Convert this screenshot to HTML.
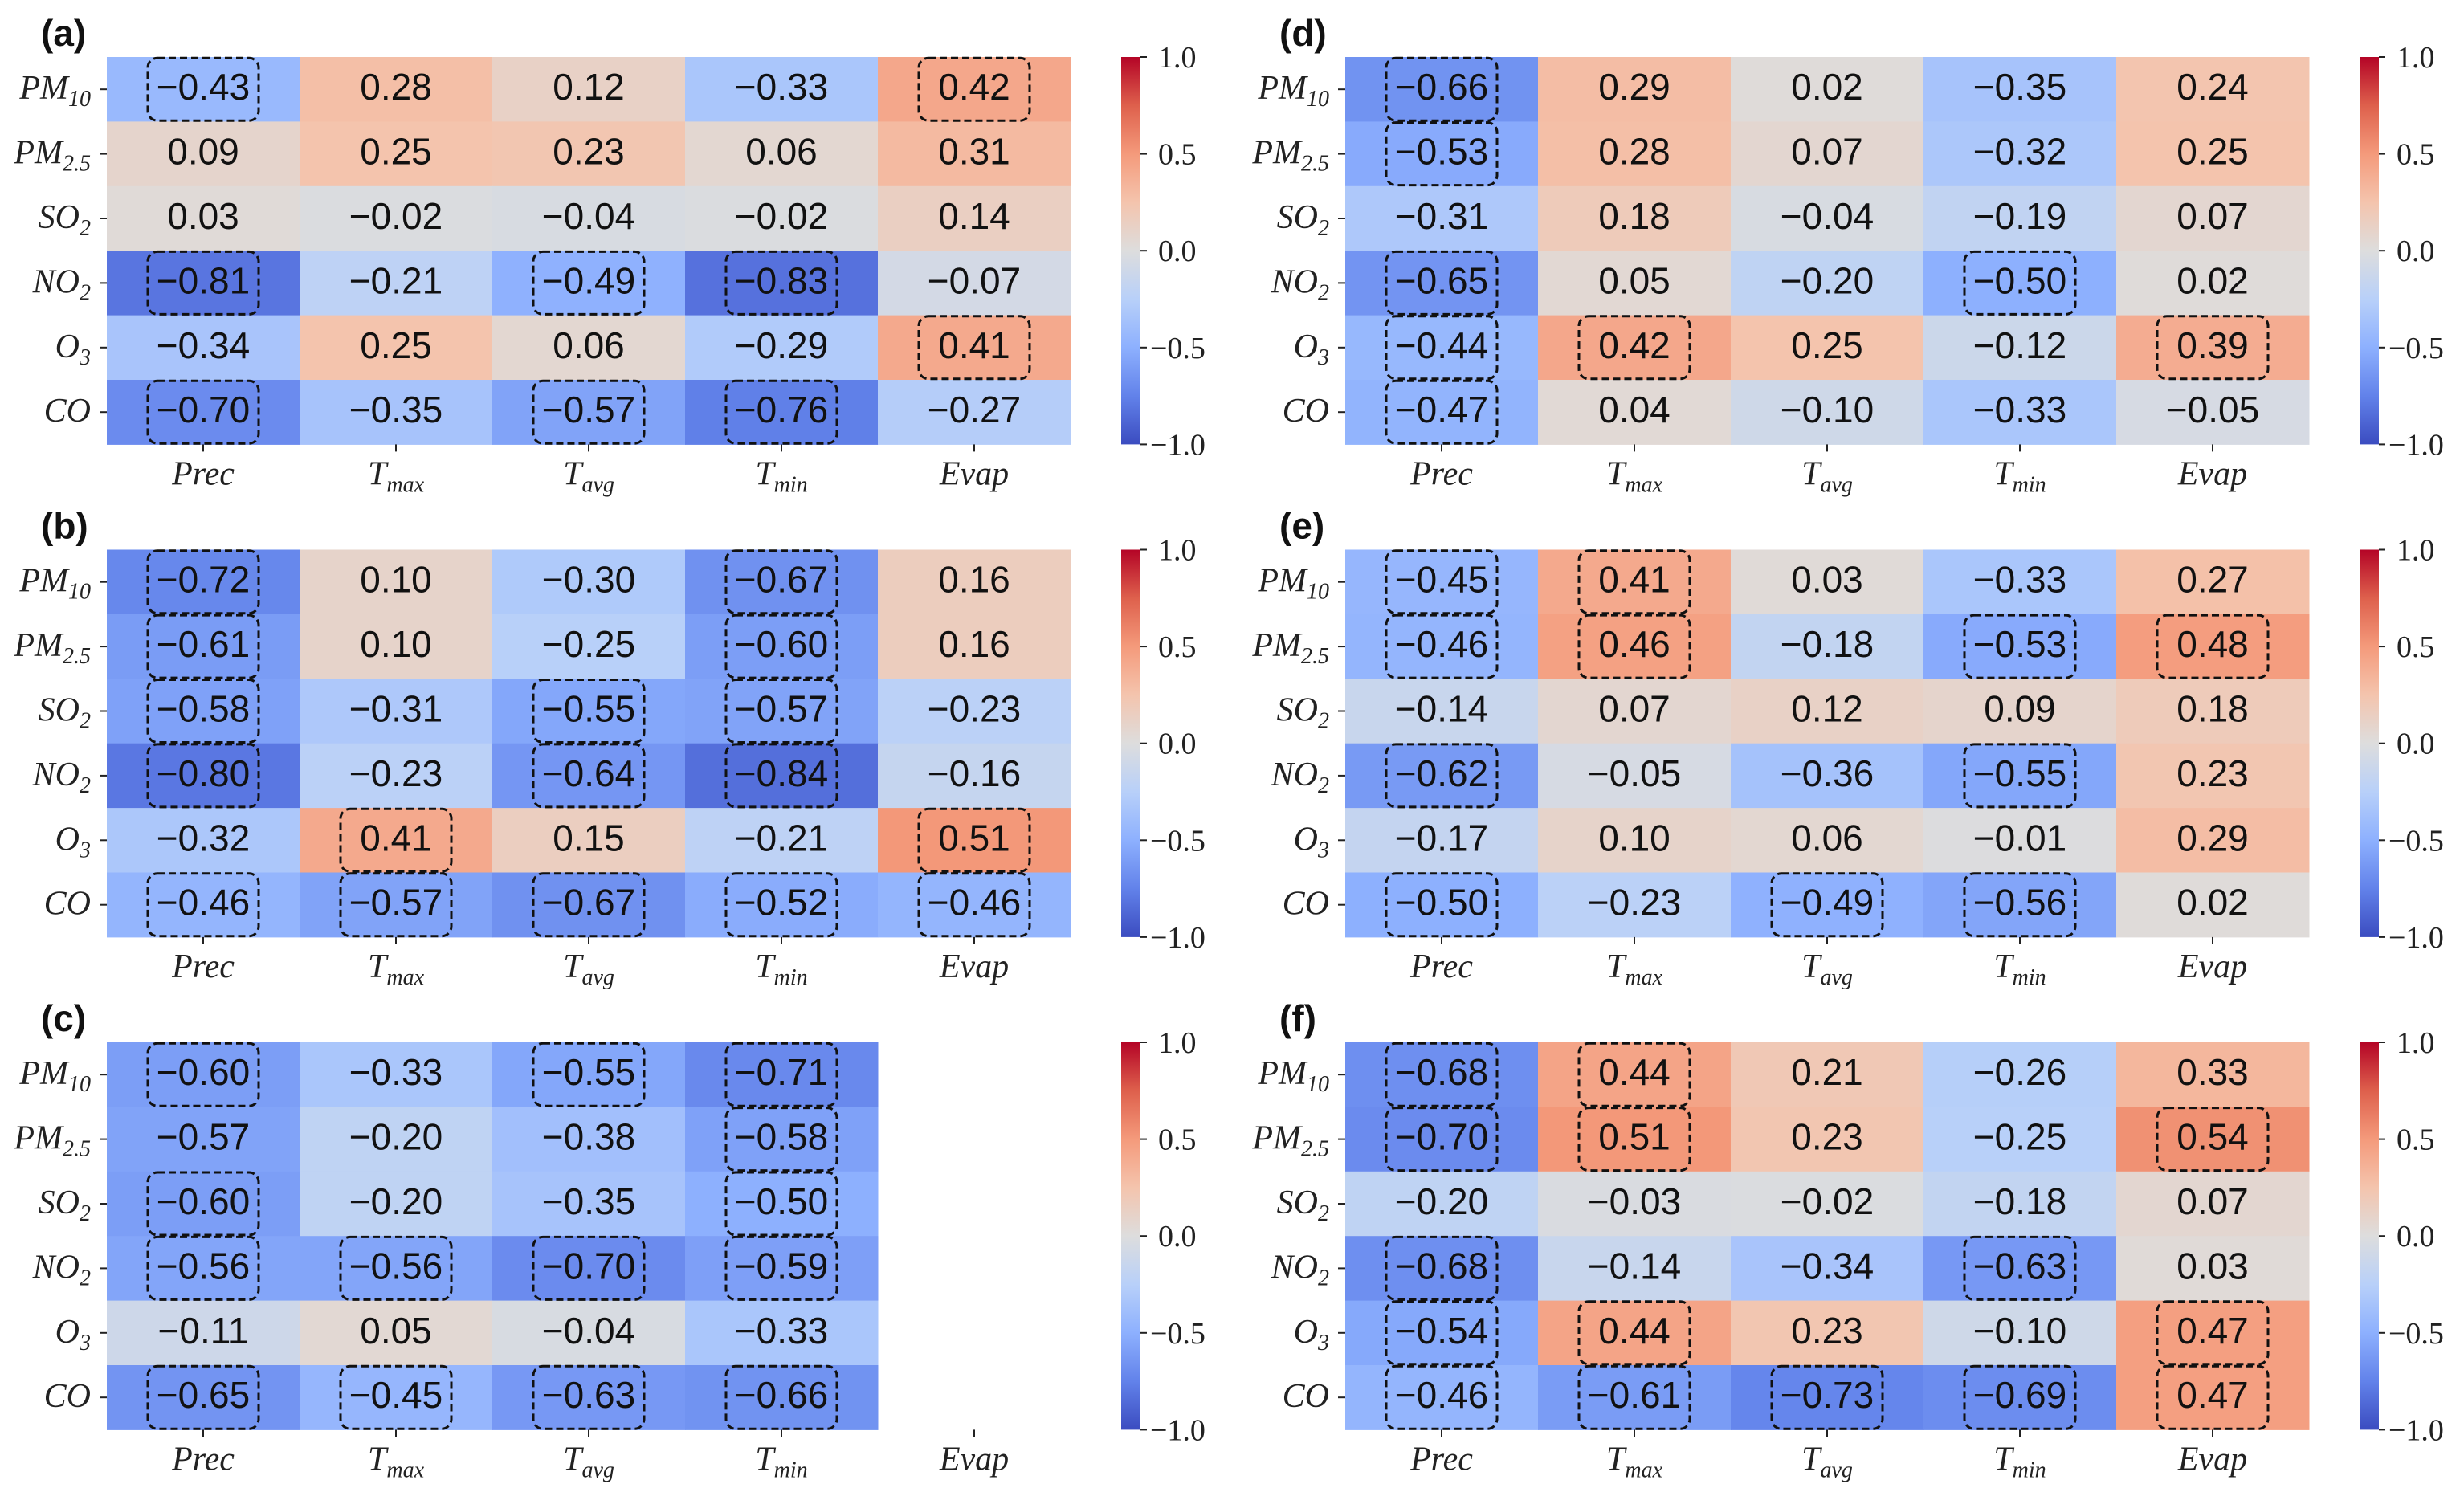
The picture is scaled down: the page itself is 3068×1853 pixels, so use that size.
<!DOCTYPE html>
<html><head><meta charset="utf-8"><style>
html,body{margin:0;padding:0;background:#fff;}
svg{display:block;}
.val{font-family:"Liberation Sans",sans-serif;font-size:46px;fill:#111;}
.lab{font-family:"Liberation Serif",serif;font-style:italic;font-size:42px;fill:#222;}
.cb{font-family:"Liberation Serif",serif;font-size:38px;fill:#222;}
.pl{font-family:"Liberation Sans",sans-serif;font-weight:bold;font-size:46px;fill:#111;}
</style></head><body>
<svg id="chart" xmlns="http://www.w3.org/2000/svg" width="3068" height="1853" viewBox="0 0 3068 1853">
<defs>
<linearGradient id="cw" x1="0" y1="1" x2="0" y2="0">
<stop offset="0" stop-color="rgb(59,76,192)"/><stop offset="0.125" stop-color="rgb(98,130,234)"/>
<stop offset="0.25" stop-color="rgb(141,176,254)"/><stop offset="0.375" stop-color="rgb(184,208,249)"/>
<stop offset="0.5" stop-color="rgb(221,221,221)"/><stop offset="0.625" stop-color="rgb(244,196,173)"/>
<stop offset="0.75" stop-color="rgb(244,154,123)"/><stop offset="0.875" stop-color="rgb(222,96,76)"/>
<stop offset="1" stop-color="rgb(180,4,38)"/>
</linearGradient>
</defs>
</svg>
<script>
const rowsLabels = [["PM","10"],["PM","2.5"],["SO","2"],["NO","2"],["O","3"],["CO",""]];
const colLabels = [["Prec",""],["T","max"],["T","avg"],["T","min"],["Evap",""]];
const cbTicks = [1.0, 0.5, 0.0, -0.5, -1.0];
const cbTickLabels = ["1.0","0.5","0.0","\u22120.5","\u22121.0"];
const panelNames = ["(a)","(b)","(c)","(d)","(e)","(f)"];
const valuesA = [[-0.43,0.28,0.12,-0.33,0.42],[0.09,0.25,0.23,0.06,0.31],[0.03,-0.02,-0.04,-0.02,0.14],[-0.81,-0.21,-0.49,-0.83,-0.07],[-0.34,0.25,0.06,-0.29,0.41],[-0.70,-0.35,-0.57,-0.76,-0.27]];
const boxedA = [[1,0,0,0,1],[0,0,0,0,0],[0,0,0,0,0],[1,0,1,1,0],[0,0,0,0,1],[1,0,1,1,0]];
const valuesB = [[-0.72,0.10,-0.30,-0.67,0.16],[-0.61,0.10,-0.25,-0.60,0.16],[-0.58,-0.31,-0.55,-0.57,-0.23],[-0.80,-0.23,-0.64,-0.84,-0.16],[-0.32,0.41,0.15,-0.21,0.51],[-0.46,-0.57,-0.67,-0.52,-0.46]];
const boxedB = [[1,0,0,1,0],[1,0,0,1,0],[1,0,1,1,0],[1,0,1,1,0],[0,1,0,0,1],[1,1,1,1,1]];
const valuesC = [[-0.60,-0.33,-0.55,-0.71],[-0.57,-0.20,-0.38,-0.58],[-0.60,-0.20,-0.35,-0.50],[-0.56,-0.56,-0.70,-0.59],[-0.11,0.05,-0.04,-0.33],[-0.65,-0.45,-0.63,-0.66]];
const boxedC = [[1,0,1,1],[0,0,0,1],[1,0,0,1],[1,1,1,1],[0,0,0,0],[1,1,1,1]];
const valuesD = [[-0.66,0.29,0.02,-0.35,0.24],[-0.53,0.28,0.07,-0.32,0.25],[-0.31,0.18,-0.04,-0.19,0.07],[-0.65,0.05,-0.20,-0.50,0.02],[-0.44,0.42,0.25,-0.12,0.39],[-0.47,0.04,-0.10,-0.33,-0.05]];
const boxedD = [[1,0,0,0,0],[1,0,0,0,0],[0,0,0,0,0],[1,0,0,1,0],[1,1,0,0,1],[1,0,0,0,0]];
const valuesE = [[-0.45,0.41,0.03,-0.33,0.27],[-0.46,0.46,-0.18,-0.53,0.48],[-0.14,0.07,0.12,0.09,0.18],[-0.62,-0.05,-0.36,-0.55,0.23],[-0.17,0.10,0.06,-0.01,0.29],[-0.50,-0.23,-0.49,-0.56,0.02]];
const boxedE = [[1,1,0,0,0],[1,1,0,1,1],[0,0,0,0,0],[1,0,0,1,0],[0,0,0,0,0],[1,0,1,1,0]];
const valuesF = [[-0.68,0.44,0.21,-0.26,0.33],[-0.70,0.51,0.23,-0.25,0.54],[-0.20,-0.03,-0.02,-0.18,0.07],[-0.68,-0.14,-0.34,-0.63,0.03],[-0.54,0.44,0.23,-0.10,0.47],[-0.46,-0.61,-0.73,-0.69,0.47]];
const boxedF = [[1,1,0,0,0],[1,1,0,0,1],[0,0,0,0,0],[1,0,0,1,0],[1,1,0,0,1],[1,1,1,1,1]];

const NS = "http://www.w3.org/2000/svg";
const svg = document.getElementById('chart');
const stops = [[59,76,192],[98,130,234],[141,176,254],[184,208,249],[221,221,221],[244,196,173],[244,154,123],[222,96,76],[180,4,38]];
function cmap(v){
  let t=(v+1)/2*8; t=Math.max(0,Math.min(8,t));
  let i=Math.min(7,Math.floor(t)), f=t-i;
  const a=stops[i], b=stops[i+1];
  return 'rgb('+a.map((x,k)=>Math.round(x+(b[k]-x)*f)).join(',')+')';
}
function mk(tag, attrs, parent){
  const e=document.createElementNS(NS,tag);
  for(const k in attrs) e.setAttribute(k,attrs[k]);
  (parent||svg).appendChild(e); return e;
}
function fmt(v){ const s=Math.abs(v).toFixed(2); return (v<0?'\u2212':'')+s; }
function subLabel(g, x, y, parts, anchor){
  const t=mk('text',{x:x,y:y,'text-anchor':anchor,class:'lab'},g);
  const a=document.createElementNS(NS,'tspan'); a.textContent=parts[0]; t.appendChild(a);
  if(parts[1]){ const b=document.createElementNS(NS,'tspan'); b.setAttribute('font-size','28'); b.setAttribute('dy','9'); b.textContent=parts[1]; t.appendChild(b); }
  return t;
}
const CW=240, RH=80.4;
function panel(idx, x0, y0, cbx, vals, boxed){
  const g=mk('g',{});
  
  
  const xs=c=>x0+c*CW, ys=r=>y0+r*RH;
  const pl=mk('text',{x:x0-82,y:y0-14,class:'pl'},g); pl.textContent=panelNames[idx];
  
  
  vals.forEach((row,r)=>row.forEach((v,c)=>{
    const rc=mk('rect',{x:xs(c),y:ys(r),width:CW+0.5,height:RH+0.5,fill:cmap(v)},g);
    
    
  }));
  vals.forEach((row,r)=>row.forEach((v,c)=>{
    const cx=xs(c)+CW/2, cy=ys(r)+RH/2;
    if(boxed[r][c]){
      const b=mk('rect',{x:cx-69,y:cy-39,width:138,height:78,rx:12,fill:'none',stroke:'#111','stroke-width':3,'stroke-dasharray':'9 5'},g);
      
      
    }
    const t=mk('text',{x:cx,y:cy+13,'text-anchor':'middle',class:'val'},g); t.textContent=fmt(v);
    
    
  }));
  rowsLabels.forEach((p,r)=>{
    const cy=ys(r)+RH/2;
    mk('line',{x1:x0-9,x2:x0,y1:cy,y2:cy,stroke:'#222','stroke-width':2},g);
    const t=subLabel(g,x0-20,cy+12,p,'end');
    
    
  });
  const yb=y0+6*RH;
  colLabels.forEach((p,c)=>{
    const cx=xs(c)+CW/2;
    mk('line',{x1:cx,x2:cx,y1:yb,y2:yb+9,stroke:'#222','stroke-width':2},g);
    const t=subLabel(g,cx,yb+50,p,'middle');
    
    
  });
  const cbH=6*RH;
  const cb=mk('rect',{x:cbx,y:y0,width:24,height:cbH,fill:'url(#cw)'},g);
  
  
  cbTicks.forEach((v,i)=>{
    const y=y0+(1-v)/2*cbH;
    mk('line',{x1:cbx+24,x2:cbx+32,y1:y,y2:y,stroke:'#222','stroke-width':2},g);
    const t=mk('text',{x:cbx+(v<0?36:46),y:y+13,class:'cb'},g); t.textContent=cbTickLabels[i];
    
    
  });
}
const leftX=133, rightX=1675, cbL=1396, cbR=2938, tops=[71,684.5,1298];
panel(0,leftX,tops[0],cbL,valuesA,boxedA);
panel(1,leftX,tops[1],cbL,valuesB,boxedB);
panel(2,leftX,tops[2],cbL,valuesC,boxedC);
panel(3,rightX,tops[0],cbR,valuesD,boxedD);
panel(4,rightX,tops[1],cbR,valuesE,boxedE);
panel(5,rightX,tops[2],cbR,valuesF,boxedF);
</script>
</body></html>
